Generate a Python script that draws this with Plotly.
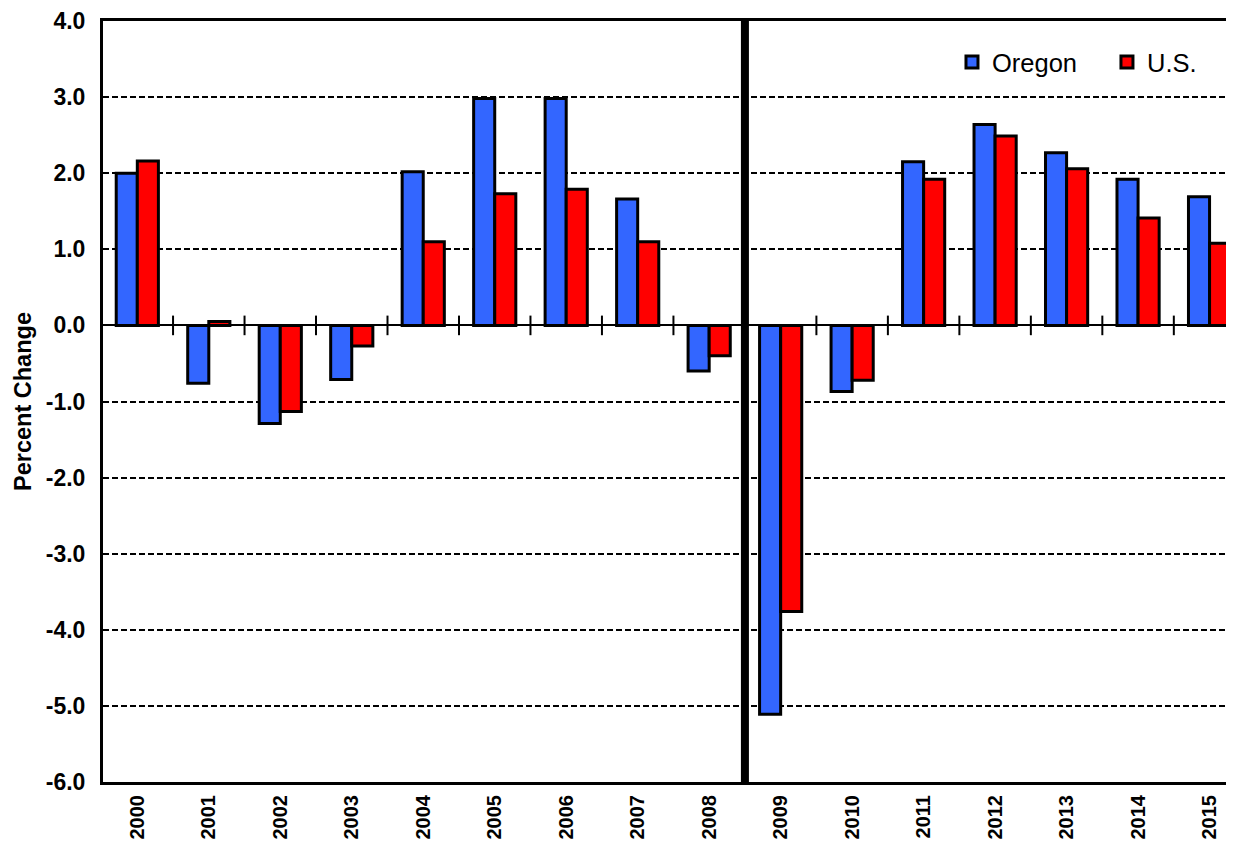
import plotly.graph_objects as go

# Annual percent change, Oregon vs U.S.
years = ["2000", "2001", "2002", "2003", "2004", "2005", "2006", "2007",
         "2008", "2009", "2010", "2011", "2012", "2013", "2014", "2015"]
oregon = [2.0, -0.76, -1.29, -0.71, 2.02, 2.98, 2.98, 1.66,
          -0.60, -5.11, -0.87, 2.15, 2.64, 2.27, 1.92, 1.69]
us = [2.16, 0.05, -1.13, -0.27, 1.10, 1.73, 1.79, 1.10,
      -0.40, -3.76, -0.72, 1.92, 2.49, 2.06, 1.41, 1.08]
y_ticks = [4, 3, 2, 1, 0, -1, -2, -3, -4, -5, -6]
y_tick_labels = [f"{v:.1f}" for v in y_ticks]
split_year = "2009"

BLUE = "#3366FF"
RED = "#FF0000"
FONT = "Liberation Sans, Arial, sans-serif"

pos = list(range(len(years)))

fig = go.Figure()
fig.add_trace(go.Bar(
    x=pos, y=oregon, name="Oregon", legend="legend",
    marker=dict(color=BLUE, line=dict(color="black", width=3)),
))
fig.add_trace(go.Bar(
    x=pos, y=us, name="U.S.", legend="legend2",
    marker=dict(color=RED, line=dict(color="black", width=3)),
))
# tick marks crossing the zero line between categories
fig.add_trace(go.Scatter(
    x=[p + 0.5 for p in pos[:-1]], y=[0] * (len(pos) - 1),
    mode="markers", showlegend=False, hoverinfo="skip",
    marker=dict(symbol="line-ns", size=14, line=dict(color="black", width=2)),
))

split_x = years.index(split_year) - 0.5
fig.add_shape(type="line", xref="x", yref="paper", x0=split_x, x1=split_x,
              y0=0, y1=1, line=dict(color="black", width=8), layer="above")

legend_style = dict(orientation="h", xanchor="left", yanchor="top", y=0.9765,
                    bgcolor="white",
                    font=dict(size=25.5, family=FONT, color="black"))

# page body has an 8px margin, so the figure is sized to fit inside it
fig.update_layout(
    width=1218, height=832,
    margin=dict(l=95, r=0, t=12, b=54),
    paper_bgcolor="white", plot_bgcolor="white",
    barmode="group", bargap=0.41, bargroupgap=0,
    font=dict(family=FONT, color="black"),
    legend=dict(x=0.756, **legend_style),
    legend2=dict(x=0.894, **legend_style),
    showlegend=True,
)
fig.update_xaxes(
    range=[-0.48, 15.23], tickvals=pos, ticktext=years, tickangle=-90,
    tickfont=dict(size=20, family=FONT, weight="bold", color="black"),
    showgrid=False, showline=True, linecolor="black", linewidth=3,
    mirror=True, ticks="", ticklabelstandoff=2, zeroline=False,
)
fig.update_yaxes(
    range=[-6, 4], tickvals=y_ticks, ticktext=y_tick_labels,
    tickfont=dict(size=23, family=FONT, weight="bold", color="black"),
    showgrid=True, gridcolor="black", gridwidth=2, griddash="6px,3px",
    zeroline=True, zerolinecolor="black", zerolinewidth=2,
    showline=True, linecolor="black", linewidth=3, ticks="",
    ticklabelstandoff=10, ticklabeloverflow="allow",
    title=dict(text="Percent Change", standoff=8,
               font=dict(size=23.5, family=FONT, weight="bold", color="black")),
)

fig.write_html("out.html")
